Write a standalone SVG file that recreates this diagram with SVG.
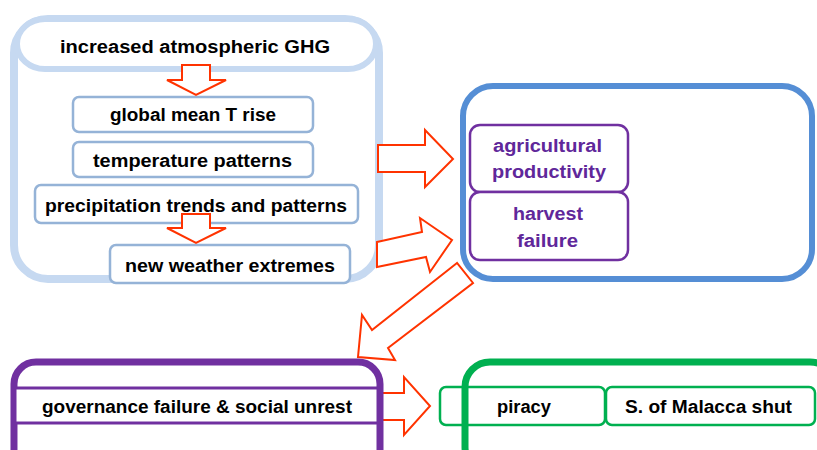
<svg xmlns="http://www.w3.org/2000/svg" width="817" height="450" viewBox="0 0 817 450">
<style>
.t{font-family:"Liberation Sans",Arial,sans-serif;font-size:18px;font-weight:bold;fill:#000;text-anchor:start}
.tn{font-family:"Liberation Sans",Arial,sans-serif;font-size:18px;font-weight:bold;fill:#000}
.tp{font-family:"Liberation Sans",Arial,sans-serif;font-size:18px;font-weight:bold;fill:#60279a}
.arr{fill:#fff;stroke:#ff3300;stroke-width:2;stroke-linejoin:miter}
.lb{fill:#fff;stroke:#95b3d7;stroke-width:2.5}
.pb{fill:#fff;stroke:#7030a0;stroke-width:2.5}
.gb{fill:none;stroke:#00b050;stroke-width:2.5}
</style>
<rect width="817" height="450" fill="#fff"/>
<g id="climate">
<rect x="14" y="19" width="365" height="260" rx="34" fill="#fff" stroke="#c6d9f1" stroke-width="8"/>
<rect x="17" y="19" width="359" height="50" rx="28" fill="#fff" stroke="#c6d9f1" stroke-width="6"/>
<text class="t" x="60" y="53" textLength="270" lengthAdjust="spacingAndGlyphs">increased atmospheric GHG</text>
</g>
<g id="n-global">
<rect class="lb" x="73" y="97" width="240" height="35" rx="6"/>
<text class="t" x="110" y="121" textLength="166" lengthAdjust="spacingAndGlyphs">global mean T rise</text>
</g>
<g id="n-temp">
<rect class="lb" x="73" y="142" width="240" height="35" rx="6"/>
<text class="t" x="93" y="167" textLength="199" lengthAdjust="spacingAndGlyphs">temperature patterns</text>
</g>
<g id="n-precip">
<rect class="lb" x="35" y="185" width="323" height="38" rx="6"/>
<text class="t" x="45" y="212" textLength="302" lengthAdjust="spacingAndGlyphs">precipitation trends and patterns</text>
</g>
<g id="n-extremes">
<rect class="lb" x="110" y="245" width="240" height="38" rx="6"/>
<text class="t" x="125" y="272" textLength="210" lengthAdjust="spacingAndGlyphs">new weather extremes</text>
</g>
<g id="agri-container">
<rect x="463" y="86" width="349" height="193" rx="30" fill="#fff" stroke="#558ed5" stroke-width="6"/>
</g>
<g id="n-agri">
<rect class="pb" x="470" y="125" width="158" height="67" rx="10"/>
<text class="tp" x="493" y="152" textLength="109" lengthAdjust="spacingAndGlyphs">agricultural</text>
<text class="tp" x="492" y="178" textLength="114" lengthAdjust="spacingAndGlyphs">productivity</text>
</g>
<g id="n-harvest">
<rect class="pb" x="470" y="192" width="158" height="68" rx="10"/>
<text class="tp" x="513" y="220" textLength="70" lengthAdjust="spacingAndGlyphs">harvest</text>
<text class="tp" x="517" y="247" textLength="61" lengthAdjust="spacingAndGlyphs">failure</text>
</g>
<g id="connectors">
<polygon class="arr" points="182,65 210,65 210,80 226,80 196,95 167,80 182,80"/>
<polygon class="arr" points="182,214 210,214 210,228 226,228 196,243 167,228 182,228"/>
<polygon class="arr" points="378,145 425,145 425,130 453,159 425,187 425,172 378,172"/>
<polygon class="arr" points="377,242 422,232 420,218 452,240 430,272 426,257 377,267"/>
<polygon class="arr" points="457,263 372,330 362,315 358,357 395,360 388,348 473,283"/>
<polygon class="arr" points="380,393 404,393 404,377 430,406 404,435 404,420 380,420"/>
</g>
<g id="governance">
<rect x="14" y="362" width="366" height="110" rx="22" fill="#fff" stroke="#7030a0" stroke-width="7"/>
<rect x="15" y="388" width="363" height="35" fill="#fff" stroke="#7030a0" stroke-width="3"/>
<text class="tn" x="42" y="413" textLength="310" lengthAdjust="spacingAndGlyphs">governance failure &amp; social unrest</text>
</g>
<g id="trade">
<rect x="465" y="362" width="370" height="110" rx="25" fill="#fff" stroke="#00b050" stroke-width="7"/>
</g>
<g id="n-piracy">
<rect class="gb" x="440" y="387" width="165" height="38" rx="6"/>
<text class="tn" x="497" y="413" textLength="54" lengthAdjust="spacingAndGlyphs">piracy</text>
</g>
<g id="n-malacca">
<rect class="gb" x="606" y="387" width="209" height="38" rx="6"/>
<text class="tn" x="625" y="413" textLength="167" lengthAdjust="spacingAndGlyphs">S. of Malacca shut</text>
</g>
</svg>
